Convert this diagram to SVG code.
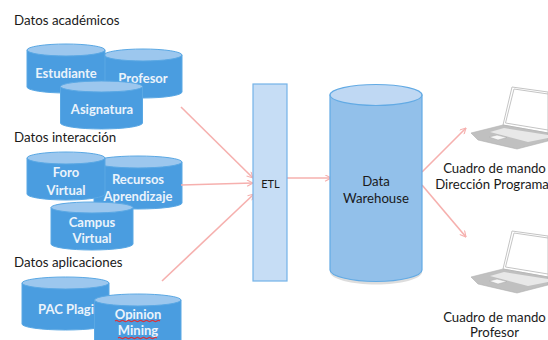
<svg xmlns="http://www.w3.org/2000/svg" width="548" height="340" viewBox="0 0 548 340">
<style>
text{font-family:"Lato","Carlito","Liberation Sans",sans-serif}
.l{font-size:13.300px;fill:#1a1a1a}
.c{font-size:13.200px;fill:#1a1a1a;text-anchor:middle}
.w{font-size:13px;fill:#eaf3fb;font-weight:700;text-anchor:middle}
.b{fill:#4a9de0;stroke:#5aa8e4;stroke-width:1}
.t{fill:#9cc7ee;stroke:#5aa8e4;stroke-width:1}
.a{fill:none;stroke:#f6b0ae;stroke-width:1.600;marker-end:url(#ah)}
.sq{fill:none;stroke:#d8343c;stroke-width:1.100}
.scr{fill:#fff;stroke:#c4c4c4;stroke-width:1}
.base{fill:#c0c0c0;stroke:#b0b0b0;stroke-width:.6}
.keys{fill:#e8e8e8}
.pad{fill:#f6f6f6;stroke:#aaa;stroke-width:.5}
</style>
<defs>
<marker id="ah" viewBox="0 0 10 10" refX="9.500" refY="5" markerWidth="7" markerHeight="7" orient="auto" markerUnits="userSpaceOnUse"><path d="M1 0.500L9.500 5L1 9.500" fill="none" stroke="#f6b0ae" stroke-width="1.600"/></marker>
<g id="laptop">
<path class="scr" d="M512 87L548 92V133L503 125Z"/>
<path class="scr" d="M514 89L548 94V130L505.500 123Z"/>
<path class="base" d="M471 133L503 125L548 133V141L517 149L478 140Z"/>
<path class="keys" d="M490 132L504 128L548 135V138L528 142Z"/>
<path class="pad" d="M489 137L497 135L507 137.500L498 140Z"/>
</g>
</defs>
<rect width="548" height="340" fill="#fff"/>
<text class="l" x="14" y="25">Datos académicos</text>
<text class="l" x="14" y="142">Datos interacción</text>
<text class="l" x="14" y="267">Datos aplicaciones</text>

<g id="profesor">
<path class="b" d="M104 55V92A39 6 0 0 0 182 92V55Z"/><ellipse class="t" cx="143" cy="55" rx="39" ry="6"/>
<text class="w" x="143" y="83">Profesor</text>
</g>
<g id="estudiante">
<path class="b" d="M27 50V87A39 6 0 0 0 105 87V50Z"/><ellipse class="t" cx="66" cy="50" rx="39" ry="6"/>
<text class="w" x="66" y="78">Estudiante</text>
</g>
<g id="asignatura">
<path class="b" d="M60.500 86.500V123A41 6 0 0 0 142.500 123V86.500Z"/><ellipse class="t" cx="101.500" cy="86.500" rx="41" ry="5.500"/>
<text class="w" x="102" y="114">Asignatura</text>
</g>
<g id="recursos">
<path class="b" d="M94 162V203A44 6 0 0 0 182 203V162Z"/><ellipse class="t" cx="138" cy="162" rx="44" ry="6"/>
<text class="w" x="138" y="184">Recursos</text><text class="w" x="138" y="201">Aprendizaje</text>
</g>
<g id="foro">
<path class="b" d="M27 158V194A39 6 0 0 0 105 194V158Z"/><ellipse class="t" cx="66" cy="158" rx="39" ry="6"/>
<text class="w" x="66" y="177">Foro</text><text class="w" x="66" y="195">Virtual</text>
</g>
<g id="campus">
<path class="b" d="M51 207.500V244A41 6 0 0 0 133 244V207.500Z"/><ellipse class="t" cx="92" cy="207.500" rx="41" ry="5.500"/>
<text class="w" x="92" y="227">Campus</text><text class="w" x="92" y="243">Virtual</text>
</g>
<g id="pac">
<path class="b" d="M22 283V324A43.500 6 0 0 0 109 324V283Z"/><ellipse class="t" cx="65.500" cy="283" rx="43.500" ry="6"/>
<text class="w" x="66" y="314">PAC Plagi</text>
</g>
<g id="opinion">
<path class="b" d="M94.500 300V345H181V300Z"/><ellipse class="t" cx="137.750" cy="300" rx="43.250" ry="6"/>
<text class="w" x="138" y="319">Opinion</text><text class="w" x="138" y="335">Mining</text>
<path class="sq" d="M115 321q1.500-1.200 3 0t3 0t3 0t3 0t3 0t3 0t3 0t3 0t3 0t3 0t3 0t3 0t3 0t3 0t3 0"/>
<path class="sq" d="M118 338q1.500-1.200 3 0t3 0t3 0t3 0t3 0t3 0t3 0t3 0t3 0t3 0t3 0t3 0t3 0"/>
</g>

<g id="connectors">
<path class="a" d="M181 107L253 178"/>
<path class="a" d="M181 185L253 183"/>
<path class="a" d="M162 281L254 194"/>
<path class="a" d="M287 178L331 178"/>
<path class="a" d="M422 172L466 128"/>
<path class="a" d="M422 185L466 237"/>
</g>

<g id="etl">
<rect x="253" y="84" width="34" height="197" fill="#c6ddf5" stroke="#74b3e8" stroke-width="1.200"/>
<text x="270.500" y="188" text-anchor="middle" font-size="11" fill="#1a1a1a">ETL</text>
</g>
<g id="warehouse">
<path d="M330 97V272C330 279 352 284.500 376 284.500S422 279 422 272V97Z" fill="#bbb" opacity=".5"/>
<path d="M330 95V270C330 276 351 281.500 376 281.500S422 276 422 270V95Z" fill="#92c0ea" stroke="#62aae4" stroke-width="1.200"/>
<ellipse cx="376" cy="95" rx="46" ry="10.500" fill="#bfd8f3" stroke="#62aae4" stroke-width="1.200"/>
<text class="c" x="376" y="186">Data</text><text class="c" x="376" y="203">Warehouse</text>
</g>
<g id="cuadro-direccion">
<use href="#laptop"/>
<text class="c" x="494.500" y="173">Cuadro de mando</text><text class="c" x="492" y="189">Dirección Programa</text>
</g>
<g id="cuadro-profesor">
<use href="#laptop" y="144"/>
<text class="c" x="494.500" y="322">Cuadro de mando</text><text class="c" x="494.500" y="336.500">Profesor</text>
</g>
</svg>
